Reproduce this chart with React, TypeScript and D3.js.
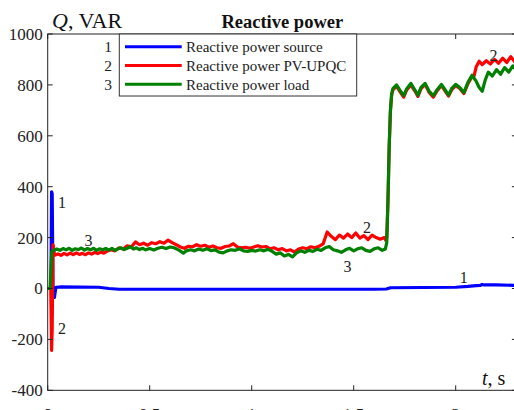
import React from "react";
import * as d3 from "d3";

// ---- data ----
const xTicks = [0, 0.5, 1, 1.5, 2];
const yTicks = [-400, -200, 0, 200, 400, 600, 800, 1000];
const seriesNames = ["Reactive power source", "Reactive power PV-UPQC", "Reactive power load"];
const seriesNums = ["1", "2", "3"];
const seriesColors = ["#0000ff", "#ff0000", "#008000"];

const sourceT = [0, 0.016, 0.019, 0.022, 0.026, 0.033, 0.04, 0.06, 0.25, 0.3, 0.35, 1.0, 1.6, 1.66, 1.68, 2.0, 2.06, 2.1, 2.12, 2.13, 2.14, 2.2, 2.3];
const sourceQ = [0, 0, 380, 372, 0, -35, 5, 6, 5, 0, -3, -3, -3, -2, 3, 5, 8, 11, 12, 16, 14, 14, 12];

const upqcT = [0, 0.015, 0.019, 0.022, 0.026, 0.03, 0.034,
  0.05, 0.065, 0.08, 0.095, 0.11, 0.125, 0.14, 0.155, 0.17, 0.185, 0.2, 0.215, 0.23, 0.245, 0.26, 0.275, 0.29,
  0.31, 0.33, 0.35, 0.37, 0.39, 0.41, 0.43, 0.45, 0.47, 0.49, 0.51, 0.53, 0.55, 0.57, 0.59, 0.61, 0.63, 0.65,
  0.67, 0.69, 0.71, 0.73, 0.75, 0.77, 0.79, 0.81, 0.83, 0.85, 0.87, 0.89, 0.91, 0.93, 0.95, 0.97, 0.99, 1.01,
  1.03, 1.05, 1.07, 1.09, 1.11, 1.13, 1.15, 1.17, 1.19, 1.21, 1.23, 1.25, 1.27, 1.29, 1.31, 1.33, 1.35, 1.37,
  1.39, 1.41, 1.43, 1.45, 1.47, 1.49, 1.51, 1.53, 1.55, 1.57, 1.59, 1.61, 1.63, 1.65, 1.657,
  1.662, 1.668, 1.674, 1.68, 1.686, 1.692,
  1.71, 1.73, 1.745, 1.76, 1.78, 1.8, 1.815, 1.83, 1.85, 1.87, 1.89, 1.91, 1.93, 1.95, 1.965, 1.98, 2.0, 2.02,
  2.04, 2.06, 2.08, 2.09, 2.1, 2.115, 2.13, 2.15, 2.17, 2.19, 2.21, 2.23, 2.25, 2.27, 2.29, 2.3];
const upqcQ = [0, 0, -243, -160, 172, 150, 131,
  136, 130, 138, 132, 139, 133, 140, 134, 138, 133, 140, 135, 142, 137, 143, 139, 146,
  152, 148, 160, 155, 168, 163, 183, 172, 178, 170, 180, 176, 184, 178, 190, 180, 172, 163,
  158, 166, 164, 172, 166, 170, 162, 167, 160, 158, 165, 167, 176, 163, 160, 162, 158, 163,
  168, 163, 165, 156, 160, 152, 157, 148, 152, 143, 155, 160, 156, 164, 160, 166, 175, 222,
  205, 192, 210, 198, 214, 200, 218, 198, 208, 192, 210, 200, 194, 200, 190,
  200, 340, 555, 695, 760, 780,
  795, 770, 752, 780, 800, 776, 755, 785, 802, 770, 752, 778, 798, 774, 756, 780, 798, 786,
  766, 805, 832, 835, 870, 893, 880, 895, 882, 900, 885, 905, 888, 911, 890, 893];

const loadT = [0, 0.012, 0.02, 0.03, 0.045, 0.06, 0.075, 0.09, 0.105, 0.12, 0.135, 0.15, 0.165, 0.18, 0.195,
  0.21, 0.225, 0.24, 0.255, 0.27, 0.285, 0.3, 0.315, 0.33, 0.345, 0.36, 0.375, 0.39, 0.405, 0.42, 0.435, 0.45,
  0.465, 0.48, 0.5, 0.52, 0.54, 0.56, 0.58, 0.6, 0.62, 0.645, 0.665, 0.68, 0.7, 0.72, 0.74, 0.76, 0.78, 0.8,
  0.82, 0.84, 0.86, 0.88, 0.9, 0.92, 0.94, 0.96, 0.98, 1.0, 1.02, 1.04, 1.06, 1.08, 1.1, 1.12, 1.14, 1.16, 1.18,
  1.2, 1.22, 1.24, 1.26, 1.28, 1.3, 1.32, 1.34, 1.36, 1.38, 1.4, 1.42, 1.44, 1.46, 1.48, 1.5, 1.52, 1.54, 1.56,
  1.58, 1.6, 1.62, 1.64, 1.655,
  1.662, 1.668, 1.674, 1.68, 1.686, 1.692,
  1.71, 1.73, 1.745, 1.76, 1.78, 1.8, 1.815, 1.83, 1.85, 1.87, 1.89, 1.91, 1.93, 1.95, 1.965, 1.98, 2.0, 2.02,
  2.04, 2.06, 2.08, 2.1, 2.115, 2.13, 2.145, 2.16, 2.18, 2.2, 2.22, 2.24, 2.26, 2.28, 2.3];
const loadQ = [0, 0, 145, 150, 155, 150, 157, 152, 158, 150, 156, 153, 159, 151, 157,
  152, 158, 150, 156, 152, 157, 151, 158, 150, 156, 160, 153, 158, 164, 155, 160, 153,
  158, 152, 157, 151, 158, 162, 157, 163, 160, 150, 139, 148, 152, 148, 155, 150, 156, 149,
  152, 143, 140, 148, 152, 150, 156, 148, 146, 150, 147, 152, 148, 154, 146, 135, 140, 128, 134,
  124, 140, 148, 142, 150, 146, 154, 150, 160, 165, 152, 148, 142, 152, 158, 148, 156, 160, 150,
  146, 156, 160, 150, 155,
  180, 350, 560, 700, 765, 785,
  800, 775, 758, 785, 806, 780, 760, 790, 806, 775, 758, 782, 802, 778, 760, 785, 802, 790,
  770, 810, 838, 815, 790, 775, 820, 850, 835, 860, 842, 868, 850, 875, 855];

// curve labels: [t, Q, text]
const curveLabelT = [0.07, 0.07, 0.2, 1.565, 1.47, 2.04, 2.185];
const curveLabelQ = [340, -157, 190, 242, 85, 45, 915];
const curveLabelText = ["1", "2", "3", "2", "3", "1", "2"];

export default function App() {
  const W = 514, H = 410;
  const left = 47.7, right = 516.9, top = 34, bottom = 390.3;
  const x = d3.scaleLinear().domain([0, 2.3]).range([left, right]);
  const y = d3.scaleLinear().domain([-400, 1000]).range([bottom, top]);
  const line = d3.line<[number, number]>().x(d => x(d[0])).y(d => y(d[1]));

  const series = [
    sourceT.map((t, i) => [t, sourceQ[i]] as [number, number]),
    upqcT.map((t, i) => [t, upqcQ[i]] as [number, number]),
    loadT.map((t, i) => [t, loadQ[i]] as [number, number]),
  ];

  const font = "'Liberation Serif', 'Times New Roman', serif";
  const tickLen = 5;

  return (
    <svg width={W} height={H} style={{ position: "absolute", left: 0, top: 0, background: "#fff" }}
      fontFamily={font}>
      <rect x={0} y={0} width={W} height={H} fill="#fff" />
      <defs>
        <clipPath id="plotclip">
          <rect x={left} y={top} width={right - left} height={bottom - top} />
        </clipPath>
      </defs>
      {/* series */}
      <g clipPath="url(#plotclip)">
        {series.map((s, i) => (
          <path key={i} d={line(s) || ""} fill="none" stroke={seriesColors[i]} strokeWidth={3.2}
            strokeLinejoin="round" strokeLinecap="round" />
        ))}
      </g>
      {/* frame */}
      <rect x={left} y={top} width={right - left} height={bottom - top} fill="none" stroke="#222" strokeWidth={1} />
      {/* ticks */}
      {yTicks.map(v => (
        <g key={"y" + v}>
          <line x1={left} x2={left + tickLen} y1={y(v)} y2={y(v)} stroke="#222" />
          <line x1={right - tickLen} x2={right} y1={y(v)} y2={y(v)} stroke="#222" />
          <text x={left - 5} y={y(v)} dy="0.35em" textAnchor="end" fontSize={17} fill="#222">{v}</text>
        </g>
      ))}
      {xTicks.map(v => (
        <g key={"x" + v}>
          <line x1={x(v)} x2={x(v)} y1={bottom} y2={bottom - tickLen} stroke="#222" />
          <line x1={x(v)} x2={x(v)} y1={top} y2={top + tickLen} stroke="#222" />
          <text x={x(v)} y={bottom + 30} textAnchor="middle" fontSize={17} fill="#222">{v}</text>
        </g>
      ))}
      {/* axis labels */}
      <text x={52} y={28} fontSize={22} fill="#111">
        <tspan fontStyle="italic">Q</tspan>, VAR
      </text>
      <text x={482} y={385} fontSize={20} fill="#111">
        <tspan fontStyle="italic">t</tspan>, s
      </text>
      <text x={(left + right) / 2} y={28} textAnchor="middle" fontSize={18.5} fontWeight="bold" fill="#111">
        Reactive power
      </text>
      {/* curve labels */}
      {curveLabelText.map((s, i) => (
        <text key={"cl" + i} x={x(curveLabelT[i])} y={y(curveLabelQ[i])} dy="0.35em" textAnchor="middle"
          fontSize={16} fill="#222">{s}</text>
      ))}
      {/* legend */}
      <rect x={119.3} y={top} width={237.4} height={62} fill="#fff" stroke="#333" strokeWidth={1} />
      {seriesNames.map((n, i) => {
        const ly = 46.7 + i * 18.8;
        return (
          <g key={"lg" + i}>
            <text x={112} y={ly} dy="0.35em" textAnchor="end" fontSize={15.5} fill="#222">{seriesNums[i]}</text>
            <line x1={125} x2={181.7} y1={ly} y2={ly} stroke={seriesColors[i]} strokeWidth={3} />
            <text x={186} y={ly} dy="0.35em" fontSize={15} fill="#222">{n}</text>
          </g>
        );
      })}
    </svg>
  );
}
